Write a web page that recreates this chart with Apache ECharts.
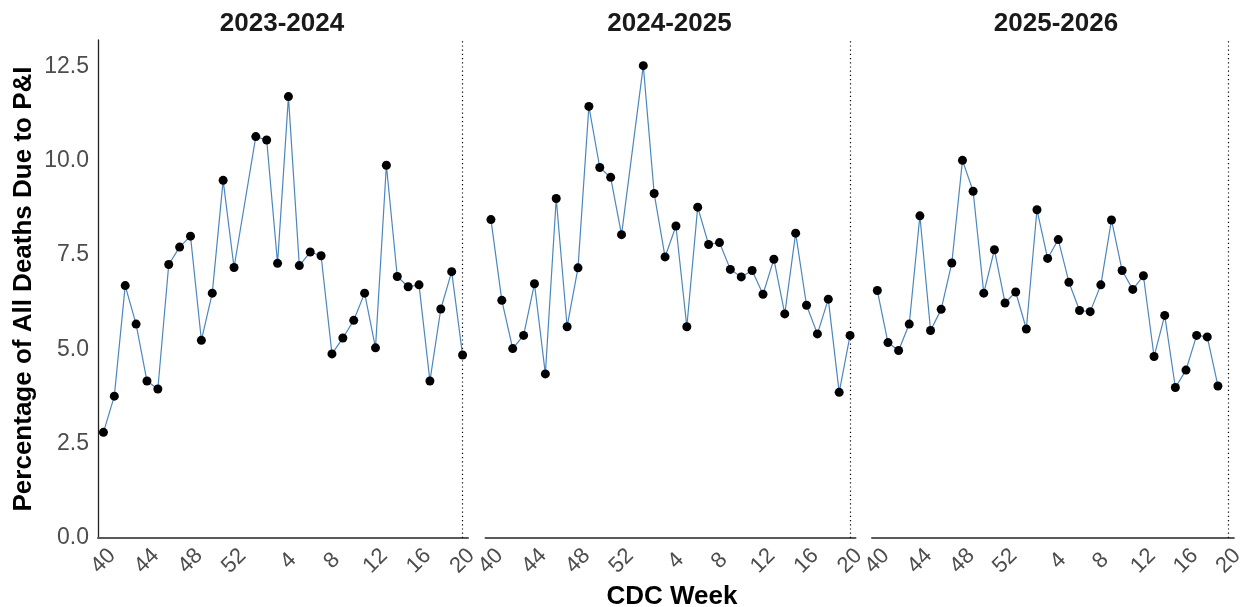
<!DOCTYPE html>
<html><head><meta charset="utf-8">
<script src="https://cdn.jsdelivr.net/npm/echarts@6/dist/echarts.min.js"></script>
<style>html,body{margin:0;padding:0;background:#fff}#c{width:1247px;height:607px}</style>
</head><body><div id="c"></div>
<script>
// ---- data ----
const weeks = ['40','41','42','43','44','45','46','47','48','49','50','51','52','53',
  '1','2','3','4','5','6','7','8','9','10','11','12','13','14','15','16','17','18','19','20'];
const tickWeeks = ['40','44','48','52','4','8','12','16','20'];
const seasons = ['2023-2024','2024-2025','2025-2026'];
const pct2023_2024 = [2.80,3.76,6.69,5.67,4.16,3.95,7.25,7.71,8.00,5.24,6.49,9.48,7.17,null,
  10.64,10.55,7.28,11.70,7.22,7.58,7.48,4.88,5.30,5.77,6.49,5.04,9.88,6.93,6.66,6.71,4.16,6.07,7.06,4.85];
const pct2024_2025 = [8.44,6.30,5.02,5.37,6.74,4.35,9.00,5.60,7.16,11.44,9.82,9.56,8.04,null,
  12.52,9.13,7.45,8.27,5.60,8.77,7.78,7.83,7.12,6.92,7.09,6.46,7.39,5.94,8.08,6.17,5.41,6.33,3.86,5.37];
const pct2025_2026 = [6.56,5.18,4.97,5.67,8.54,5.50,6.06,7.29,10.01,9.19,6.49,7.64,6.23,6.52,
  5.54,8.70,7.41,7.91,6.78,6.03,6.00,6.71,8.43,7.09,6.59,6.95,4.81,5.90,3.99,4.45,5.37,5.33,4.03,null];
const currentWeek = '20';
const yTitle = 'Percentage of All Deaths Due to P&I';
const xTitle = 'CDC Week';
const seriesData = [pct2023_2024, pct2024_2025, pct2025_2026];

// ---- layout ----
const FONT = '"Liberation Sans", Arial, sans-serif';
const gridLefts = [98, 485.5, 872];
const gridW = 370, gridTop = 40, gridH = 498;

const chart = echarts.init(document.getElementById('c'), null, {renderer: 'canvas'});
const grids = [], xAxes = [], yAxes = [], series = [], graphics = [];
seasons.forEach((s, i) => {
  grids.push({left: gridLefts[i], top: gridTop, width: gridW, height: gridH});
  xAxes.push({
    type: 'category', gridIndex: i, data: weeks, boundaryGap: true,
    axisLine: {show: true, lineStyle: {color: '#595959', width: 2}},
    axisTick: {show: false},
    splitLine: {show: false},
    axisLabel: {
      interval: (idx, v) => tickWeeks.includes(v),
      rotate: 45, align: 'center', verticalAlign: 'middle', margin: 23,
      color: '#4d4d4d', fontSize: 22, fontFamily: FONT
    }
  });
  yAxes.push({
    type: 'value', gridIndex: i, min: 0, max: 13.2, interval: 2.5,
    axisLine: {show: i === 0, lineStyle: {color: '#222', width: 1.3}},
    axisTick: {show: false},
    splitLine: {show: false},
    axisLabel: {
      show: i === 0, showMaxLabel: false, margin: 9,
      formatter: v => (Math.abs(v / 2.5 - Math.round(v / 2.5)) < 1e-6 ? v.toFixed(1) : ''),
      color: '#4d4d4d', fontSize: 23, fontFamily: FONT
    }
  });
  series.push({
    type: 'line', xAxisIndex: i, yAxisIndex: i, data: seriesData[i],
    connectNulls: true, showAllSymbol: true, symbol: 'circle', symbolSize: 9,
    itemStyle: {color: '#000'},
    lineStyle: {color: '#4a87c0', width: 1.2},
    markLine: {
      silent: true, symbol: ['none', 'none'], label: {show: false},
      lineStyle: {type: [1.2, 3], color: '#000', width: 1.2},
      data: [{xAxis: currentWeek}]
    }
  });
  graphics.push({
    type: 'text', x: gridLefts[i] + gridW / 2 - 1, y: 24,
    style: {text: s, font: 'bold 26px ' + FONT, fill: '#1a1a1a', textAlign: 'center', textVerticalAlign: 'middle'}
  });
});
graphics.push({
  type: 'text', x: 24, y: 289, rotation: Math.PI / 2,
  style: {text: yTitle, font: 'bold 26px ' + FONT, fill: '#000', textAlign: 'center', textVerticalAlign: 'middle'}
});
graphics.push({
  type: 'text', x: 672, y: 597,
  style: {text: xTitle, font: 'bold 26px ' + FONT, fill: '#000', textAlign: 'center', textVerticalAlign: 'middle'}
});

chart.setOption({
  animation: false,
  backgroundColor: '#fff',
  grid: grids, xAxis: xAxes, yAxis: yAxes, series: series,
  graphic: graphics
});
</script></body></html>
